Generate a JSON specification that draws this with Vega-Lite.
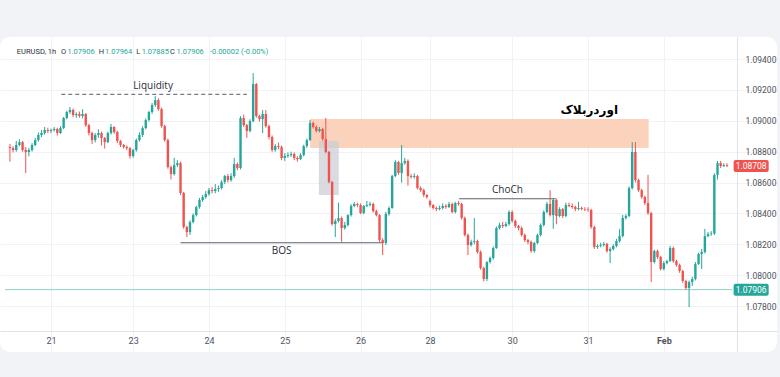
{
"$schema": "https://vega.github.io/schema/vega-lite/v6.json",
"autosize": "none",
"width": 777,
"height": 315,
"padding": {"left": 0, "top": 37, "right": 3, "bottom": 25},
"background": "#f1f3f6",
"config": {
 "view": {"fill": "#ffffff", "stroke": null, "cornerRadius": 10},
 "font": "Roboto",
 "axisX": {"grid": true, "gridColor": "#f0f2f6", "ticks": false, "domainColor": "#dfe2e8", "labelColor": "#50535e", "labelFontSize": 9, "labelPadding": 5},
 "axisY": {"grid": true, "gridColor": "#f0f2f6", "ticks": false, "domainColor": "#dfe2e8", "labelColor": "#50535e", "labelFontSize": 8.5, "labelPadding": 8, "labelOverlap": false}
},
"datasets": {
"candles": [
{"i":0,"o":1.0883,"h":1.0885,"l":1.08735,"c":1.08823},
{"i":1,"o":1.08823,"h":1.08835,"l":1.08795,"c":1.08811},
{"i":2,"o":1.08811,"h":1.0887,"l":1.088,"c":1.08843},
{"i":3,"o":1.08843,"h":1.0888,"l":1.08835,"c":1.08862},
{"i":4,"o":1.08862,"h":1.0887,"l":1.088,"c":1.08811},
{"i":5,"o":1.08811,"h":1.0883,"l":1.08662,"c":1.08798},
{"i":6,"o":1.08798,"h":1.08825,"l":1.0877,"c":1.08811},
{"i":7,"o":1.08811,"h":1.08855,"l":1.088,"c":1.08843},
{"i":8,"o":1.08843,"h":1.0889,"l":1.08835,"c":1.08875},
{"i":9,"o":1.08875,"h":1.08925,"l":1.08865,"c":1.08908},
{"i":10,"o":1.08908,"h":1.0894,"l":1.08895,"c":1.08921},
{"i":11,"o":1.08921,"h":1.0896,"l":1.0891,"c":1.0894},
{"i":12,"o":1.0894,"h":1.08955,"l":1.0892,"c":1.08934},
{"i":13,"o":1.08934,"h":1.0895,"l":1.0892,"c":1.0894},
{"i":14,"o":1.0894,"h":1.0896,"l":1.0893,"c":1.08947},
{"i":15,"o":1.08947,"h":1.08955,"l":1.08905,"c":1.08921},
{"i":16,"o":1.08921,"h":1.08965,"l":1.08915,"c":1.08953},
{"i":17,"o":1.08953,"h":1.09025,"l":1.08945,"c":1.09018},
{"i":18,"o":1.09018,"h":1.09065,"l":1.0901,"c":1.09057},
{"i":19,"o":1.09057,"h":1.0909,"l":1.09045,"c":1.0907},
{"i":20,"o":1.0907,"h":1.0908,"l":1.09025,"c":1.09037},
{"i":21,"o":1.09037,"h":1.09055,"l":1.0902,"c":1.09044},
{"i":22,"o":1.09044,"h":1.0906,"l":1.0902,"c":1.09031},
{"i":23,"o":1.09031,"h":1.09075,"l":1.09015,"c":1.09044},
{"i":24,"o":1.09044,"h":1.0905,"l":1.0896,"c":1.08972},
{"i":25,"o":1.08972,"h":1.0898,"l":1.08905,"c":1.08921},
{"i":26,"o":1.08921,"h":1.0893,"l":1.0885,"c":1.08875},
{"i":27,"o":1.08875,"h":1.0892,"l":1.0886,"c":1.08908},
{"i":28,"o":1.08908,"h":1.08945,"l":1.0889,"c":1.08921},
{"i":29,"o":1.08921,"h":1.0893,"l":1.0884,"c":1.08888},
{"i":30,"o":1.08888,"h":1.08895,"l":1.0882,"c":1.08862},
{"i":31,"o":1.08862,"h":1.0893,"l":1.08855,"c":1.08921},
{"i":32,"o":1.08921,"h":1.0898,"l":1.0891,"c":1.0896},
{"i":33,"o":1.0896,"h":1.08965,"l":1.08915,"c":1.08927},
{"i":34,"o":1.08927,"h":1.08935,"l":1.08855,"c":1.08869},
{"i":35,"o":1.08869,"h":1.08875,"l":1.0883,"c":1.08843},
{"i":36,"o":1.08843,"h":1.0885,"l":1.0882,"c":1.0883},
{"i":37,"o":1.0883,"h":1.0884,"l":1.0881,"c":1.08823},
{"i":38,"o":1.08823,"h":1.0883,"l":1.08755,"c":1.08772},
{"i":39,"o":1.08772,"h":1.0882,"l":1.0876,"c":1.08811},
{"i":40,"o":1.08811,"h":1.08885,"l":1.088,"c":1.08875},
{"i":41,"o":1.08875,"h":1.08925,"l":1.08865,"c":1.08908},
{"i":42,"o":1.08908,"h":1.08965,"l":1.08895,"c":1.08953},
{"i":43,"o":1.08953,"h":1.09015,"l":1.08945,"c":1.09005},
{"i":44,"o":1.09005,"h":1.09065,"l":1.08995,"c":1.09057},
{"i":45,"o":1.09057,"h":1.09115,"l":1.09045,"c":1.09102},
{"i":46,"o":1.09102,"h":1.0916,"l":1.0909,"c":1.09134},
{"i":47,"o":1.09134,"h":1.09145,"l":1.09065,"c":1.09076},
{"i":48,"o":1.09076,"h":1.09085,"l":1.08955,"c":1.08966},
{"i":49,"o":1.08966,"h":1.08975,"l":1.08865,"c":1.08875},
{"i":50,"o":1.08875,"h":1.08885,"l":1.0869,"c":1.087},
{"i":51,"o":1.087,"h":1.0871,"l":1.0862,"c":1.08655},
{"i":52,"o":1.08655,"h":1.0876,"l":1.08645,"c":1.08713},
{"i":53,"o":1.08713,"h":1.08745,"l":1.087,"c":1.08726},
{"i":54,"o":1.08726,"h":1.08735,"l":1.0852,"c":1.08532},
{"i":55,"o":1.08532,"h":1.0854,"l":1.083,"c":1.08312},
{"i":56,"o":1.08312,"h":1.0832,"l":1.08247,"c":1.08279},
{"i":57,"o":1.08279,"h":1.08355,"l":1.0826,"c":1.08344},
{"i":58,"o":1.08344,"h":1.084,"l":1.08335,"c":1.08389},
{"i":59,"o":1.08389,"h":1.0845,"l":1.0838,"c":1.08441},
{"i":60,"o":1.08441,"h":1.085,"l":1.0843,"c":1.08487},
{"i":61,"o":1.08487,"h":1.0852,"l":1.08475,"c":1.08506},
{"i":62,"o":1.08506,"h":1.08545,"l":1.08495,"c":1.08525},
{"i":63,"o":1.08525,"h":1.08565,"l":1.08515,"c":1.08551},
{"i":64,"o":1.08551,"h":1.0857,"l":1.0853,"c":1.08545},
{"i":65,"o":1.08545,"h":1.0859,"l":1.0853,"c":1.08558},
{"i":66,"o":1.08558,"h":1.0858,"l":1.0854,"c":1.08564},
{"i":67,"o":1.08564,"h":1.08615,"l":1.08555,"c":1.08603},
{"i":68,"o":1.08603,"h":1.0865,"l":1.0859,"c":1.08642},
{"i":69,"o":1.08642,"h":1.08655,"l":1.086,"c":1.08616},
{"i":70,"o":1.08616,"h":1.0866,"l":1.08605,"c":1.08642},
{"i":71,"o":1.08642,"h":1.0876,"l":1.0863,"c":1.0872},
{"i":72,"o":1.0872,"h":1.0873,"l":1.0868,"c":1.08694},
{"i":73,"o":1.08694,"h":1.0903,"l":1.08685,"c":1.09018},
{"i":74,"o":1.09018,"h":1.0904,"l":1.0896,"c":1.08972},
{"i":75,"o":1.08972,"h":1.0898,"l":1.0889,"c":1.08934},
{"i":76,"o":1.08934,"h":1.0901,"l":1.08925,"c":1.08998},
{"i":77,"o":1.08998,"h":1.09309,"l":1.0899,"c":1.09238},
{"i":78,"o":1.09238,"h":1.09245,"l":1.0902,"c":1.09031},
{"i":79,"o":1.09031,"h":1.0904,"l":1.08995,"c":1.09011},
{"i":80,"o":1.09011,"h":1.0907,"l":1.0892,"c":1.09044},
{"i":81,"o":1.09044,"h":1.0907,"l":1.08955,"c":1.08966},
{"i":82,"o":1.08966,"h":1.08975,"l":1.0888,"c":1.08895},
{"i":83,"o":1.08895,"h":1.08905,"l":1.088,"c":1.08811},
{"i":84,"o":1.08811,"h":1.0885,"l":1.088,"c":1.08836},
{"i":85,"o":1.08836,"h":1.0886,"l":1.08815,"c":1.0883},
{"i":86,"o":1.0883,"h":1.0884,"l":1.08745,"c":1.08759},
{"i":87,"o":1.08759,"h":1.0879,"l":1.0874,"c":1.08772},
{"i":88,"o":1.08772,"h":1.08795,"l":1.0876,"c":1.08778},
{"i":89,"o":1.08778,"h":1.088,"l":1.08765,"c":1.08785},
{"i":90,"o":1.08785,"h":1.08795,"l":1.08745,"c":1.08759},
{"i":91,"o":1.08759,"h":1.0877,"l":1.08735,"c":1.08752},
{"i":92,"o":1.08752,"h":1.0879,"l":1.08745,"c":1.08778},
{"i":93,"o":1.08778,"h":1.08845,"l":1.0877,"c":1.08836},
{"i":94,"o":1.08836,"h":1.08885,"l":1.08825,"c":1.08875},
{"i":95,"o":1.08875,"h":1.09005,"l":1.0887,"c":1.08985},
{"i":96,"o":1.08985,"h":1.08995,"l":1.0895,"c":1.0896},
{"i":97,"o":1.0896,"h":1.0897,"l":1.08925,"c":1.08934},
{"i":98,"o":1.08934,"h":1.0896,"l":1.08925,"c":1.08947},
{"i":99,"o":1.08947,"h":1.08955,"l":1.0887,"c":1.08882},
{"i":100,"o":1.08882,"h":1.09018,"l":1.0879,"c":1.08798},
{"i":101,"o":1.08798,"h":1.08805,"l":1.08595,"c":1.08603},
{"i":102,"o":1.08603,"h":1.0861,"l":1.0832,"c":1.08331},
{"i":103,"o":1.08331,"h":1.08365,"l":1.08247,"c":1.08351},
{"i":104,"o":1.08351,"h":1.0847,"l":1.0834,"c":1.0837},
{"i":105,"o":1.0837,"h":1.0838,"l":1.08215,"c":1.08305},
{"i":106,"o":1.08305,"h":1.08345,"l":1.08295,"c":1.08325},
{"i":107,"o":1.08325,"h":1.08395,"l":1.08315,"c":1.08389},
{"i":108,"o":1.08389,"h":1.0846,"l":1.0838,"c":1.08448},
{"i":109,"o":1.08448,"h":1.08475,"l":1.0844,"c":1.08461},
{"i":110,"o":1.08461,"h":1.0847,"l":1.0844,"c":1.08454},
{"i":111,"o":1.08454,"h":1.08465,"l":1.08395,"c":1.08402},
{"i":112,"o":1.08402,"h":1.08455,"l":1.08395,"c":1.08448},
{"i":113,"o":1.08448,"h":1.0848,"l":1.0844,"c":1.08454},
{"i":114,"o":1.08454,"h":1.08475,"l":1.08445,"c":1.08461},
{"i":115,"o":1.08461,"h":1.0847,"l":1.08405,"c":1.08415},
{"i":116,"o":1.08415,"h":1.08425,"l":1.0838,"c":1.08389},
{"i":117,"o":1.08389,"h":1.08395,"l":1.08215,"c":1.08227},
{"i":118,"o":1.08227,"h":1.0824,"l":1.0813,"c":1.08208},
{"i":119,"o":1.08208,"h":1.0841,"l":1.08195,"c":1.08396},
{"i":120,"o":1.08396,"h":1.08445,"l":1.08385,"c":1.08435},
{"i":121,"o":1.08435,"h":1.0865,"l":1.0843,"c":1.08642},
{"i":122,"o":1.08642,"h":1.08745,"l":1.08635,"c":1.08733},
{"i":123,"o":1.08733,"h":1.0874,"l":1.0865,"c":1.08662},
{"i":124,"o":1.08662,"h":1.08843,"l":1.086,"c":1.08726},
{"i":125,"o":1.08726,"h":1.0876,"l":1.08715,"c":1.08739},
{"i":126,"o":1.08739,"h":1.0875,"l":1.0858,"c":1.08642},
{"i":127,"o":1.08642,"h":1.08655,"l":1.08625,"c":1.08636},
{"i":128,"o":1.08636,"h":1.0866,"l":1.08625,"c":1.08642},
{"i":129,"o":1.08642,"h":1.0865,"l":1.08555,"c":1.08564},
{"i":130,"o":1.08564,"h":1.08575,"l":1.0854,"c":1.08551},
{"i":131,"o":1.08551,"h":1.0856,"l":1.08505,"c":1.08519},
{"i":132,"o":1.08519,"h":1.08525,"l":1.08495,"c":1.08506},
{"i":133,"o":1.0848,"h":1.0849,"l":1.0844,"c":1.08454},
{"i":134,"o":1.08454,"h":1.0846,"l":1.08425,"c":1.08435},
{"i":135,"o":1.08435,"h":1.08445,"l":1.08415,"c":1.08428},
{"i":136,"o":1.08428,"h":1.0845,"l":1.0842,"c":1.08435},
{"i":137,"o":1.08435,"h":1.08465,"l":1.08425,"c":1.08448},
{"i":138,"o":1.08448,"h":1.0846,"l":1.0843,"c":1.08441},
{"i":139,"o":1.08441,"h":1.08475,"l":1.08435,"c":1.08461},
{"i":140,"o":1.08461,"h":1.0847,"l":1.084,"c":1.08409},
{"i":141,"o":1.08409,"h":1.08475,"l":1.084,"c":1.08467},
{"i":142,"o":1.08467,"h":1.0848,"l":1.0845,"c":1.08461},
{"i":143,"o":1.08461,"h":1.0847,"l":1.0836,"c":1.0837},
{"i":144,"o":1.0837,"h":1.0838,"l":1.0825,"c":1.0826},
{"i":145,"o":1.0826,"h":1.0827,"l":1.0813,"c":1.08195},
{"i":146,"o":1.08195,"h":1.0823,"l":1.08185,"c":1.08215},
{"i":147,"o":1.08215,"h":1.0837,"l":1.082,"c":1.08221},
{"i":148,"o":1.08221,"h":1.0823,"l":1.0814,"c":1.0815},
{"i":149,"o":1.0815,"h":1.0816,"l":1.08035,"c":1.08046},
{"i":150,"o":1.08046,"h":1.08055,"l":1.0796,"c":1.07975},
{"i":151,"o":1.07975,"h":1.0809,"l":1.07962,"c":1.08085},
{"i":152,"o":1.08085,"h":1.0812,"l":1.08075,"c":1.08111},
{"i":153,"o":1.08111,"h":1.08185,"l":1.081,"c":1.08176},
{"i":154,"o":1.08176,"h":1.08315,"l":1.0817,"c":1.08305},
{"i":155,"o":1.08305,"h":1.0834,"l":1.08295,"c":1.08325},
{"i":156,"o":1.08325,"h":1.08345,"l":1.08305,"c":1.08318},
{"i":157,"o":1.08318,"h":1.08345,"l":1.0831,"c":1.08331},
{"i":158,"o":1.08331,"h":1.0842,"l":1.0832,"c":1.08409},
{"i":159,"o":1.08409,"h":1.0842,"l":1.0834,"c":1.08351},
{"i":160,"o":1.08351,"h":1.0836,"l":1.08305,"c":1.08318},
{"i":161,"o":1.08318,"h":1.08325,"l":1.0829,"c":1.08305},
{"i":162,"o":1.08305,"h":1.08315,"l":1.0825,"c":1.0826},
{"i":163,"o":1.0826,"h":1.0827,"l":1.08215,"c":1.08227},
{"i":164,"o":1.08227,"h":1.08235,"l":1.082,"c":1.08215},
{"i":165,"o":1.08215,"h":1.08225,"l":1.08145,"c":1.08156},
{"i":166,"o":1.08156,"h":1.08215,"l":1.08145,"c":1.08208},
{"i":167,"o":1.08208,"h":1.0827,"l":1.082,"c":1.0826},
{"i":168,"o":1.0826,"h":1.08335,"l":1.0825,"c":1.08325},
{"i":169,"o":1.08325,"h":1.0842,"l":1.08315,"c":1.08409},
{"i":170,"o":1.08409,"h":1.08475,"l":1.084,"c":1.08461},
{"i":171,"o":1.08461,"h":1.08551,"l":1.0838,"c":1.08389},
{"i":172,"o":1.08389,"h":1.085,"l":1.083,"c":1.08487},
{"i":173,"o":1.08487,"h":1.08495,"l":1.0833,"c":1.08383},
{"i":174,"o":1.08383,"h":1.0844,"l":1.08375,"c":1.08428},
{"i":175,"o":1.08428,"h":1.08435,"l":1.0837,"c":1.08383},
{"i":176,"o":1.08383,"h":1.0847,"l":1.08375,"c":1.08454},
{"i":177,"o":1.08454,"h":1.0847,"l":1.0844,"c":1.08448},
{"i":178,"o":1.08448,"h":1.08465,"l":1.0843,"c":1.08441},
{"i":179,"o":1.08441,"h":1.0845,"l":1.08415,"c":1.08428},
{"i":180,"o":1.08428,"h":1.08475,"l":1.0842,"c":1.08435},
{"i":181,"o":1.08435,"h":1.08445,"l":1.0842,"c":1.08428},
{"i":182,"o":1.08428,"h":1.0844,"l":1.08415,"c":1.08425},
{"i":183,"o":1.08425,"h":1.0844,"l":1.0841,"c":1.08422},
{"i":184,"o":1.08422,"h":1.0843,"l":1.083,"c":1.08312},
{"i":185,"o":1.08312,"h":1.0832,"l":1.0817,"c":1.08182},
{"i":186,"o":1.08182,"h":1.082,"l":1.0817,"c":1.08189},
{"i":187,"o":1.08189,"h":1.0821,"l":1.0818,"c":1.08195},
{"i":188,"o":1.08195,"h":1.08215,"l":1.08185,"c":1.08202},
{"i":189,"o":1.08202,"h":1.0821,"l":1.08145,"c":1.08156},
{"i":190,"o":1.08156,"h":1.0818,"l":1.08078,"c":1.08169},
{"i":191,"o":1.08169,"h":1.082,"l":1.0816,"c":1.08189},
{"i":192,"o":1.08189,"h":1.08235,"l":1.0818,"c":1.08221},
{"i":193,"o":1.08221,"h":1.083,"l":1.0821,"c":1.08253},
{"i":194,"o":1.08253,"h":1.0839,"l":1.08245,"c":1.0837},
{"i":195,"o":1.0837,"h":1.08395,"l":1.0836,"c":1.08383},
{"i":196,"o":1.08383,"h":1.08575,"l":1.08375,"c":1.08564},
{"i":197,"o":1.08564,"h":1.08862,"l":1.08555,"c":1.08798},
{"i":198,"o":1.08798,"h":1.08862,"l":1.086,"c":1.08616},
{"i":199,"o":1.08616,"h":1.08625,"l":1.0854,"c":1.08551},
{"i":200,"o":1.08551,"h":1.0856,"l":1.08495,"c":1.08506},
{"i":201,"o":1.08506,"h":1.08515,"l":1.08455,"c":1.08467},
{"i":202,"o":1.08467,"h":1.0865,"l":1.0839,"c":1.08402},
{"i":203,"o":1.08402,"h":1.0841,"l":1.07955,"c":1.08085},
{"i":204,"o":1.08085,"h":1.08165,"l":1.08075,"c":1.08156},
{"i":205,"o":1.08156,"h":1.08165,"l":1.08105,"c":1.08117},
{"i":206,"o":1.08117,"h":1.08125,"l":1.0803,"c":1.0804},
{"i":207,"o":1.0804,"h":1.0809,"l":1.0803,"c":1.08078},
{"i":208,"o":1.08078,"h":1.081,"l":1.0807,"c":1.08091},
{"i":209,"o":1.08091,"h":1.0819,"l":1.08085,"c":1.08176},
{"i":210,"o":1.08176,"h":1.08185,"l":1.0808,"c":1.08091},
{"i":211,"o":1.08091,"h":1.081,"l":1.08055,"c":1.08066},
{"i":212,"o":1.08066,"h":1.08075,"l":1.08015,"c":1.08027},
{"i":213,"o":1.08027,"h":1.08035,"l":1.0795,"c":1.07962},
{"i":214,"o":1.07962,"h":1.0797,"l":1.07905,"c":1.07917},
{"i":215,"o":1.07917,"h":1.07965,"l":1.07793,"c":1.07955},
{"i":216,"o":1.07955,"h":1.0799,"l":1.0793,"c":1.07975},
{"i":217,"o":1.07975,"h":1.08085,"l":1.07965,"c":1.08072},
{"i":218,"o":1.08072,"h":1.08145,"l":1.08065,"c":1.08137},
{"i":219,"o":1.08137,"h":1.0817,"l":1.0804,"c":1.0815},
{"i":220,"o":1.0815,"h":1.083,"l":1.0814,"c":1.08253},
{"i":221,"o":1.08253,"h":1.0828,"l":1.08245,"c":1.08266},
{"i":222,"o":1.08266,"h":1.08285,"l":1.08255,"c":1.0827},
{"i":223,"o":1.0827,"h":1.0866,"l":1.0826,"c":1.08649},
{"i":224,"o":1.08649,"h":1.0874,"l":1.0862,"c":1.08726},
{"i":225,"o":1.08726,"h":1.0874,"l":1.08695,"c":1.08707},
{"i":226,"o":1.08707,"h":1.08725,"l":1.087,"c":1.08713},
{"i":227,"o":1.08713,"h":1.08725,"l":1.087,"c":1.08708}
]
},
"layer": [
{
 "data": {"values": [{"i1": 95, "i2": 202.2, "p1": 1.08823, "p2": 1.09011}]},
 "mark": {"type": "rect", "fill": "#fbd3bd"},
 "encoding": {
  "x": {"field": "i1", "type": "quantitative", "scale": {"domain": [-1.5625, 241.25], "nice": false, "zero": false},
        "title": null,
        "axis": {"orient": "bottom", "offset": -21, "tickCount": 30, "values": [13, 39, 63, 87, 111, 133, 159, 183, 207], "labelOverlap": false,
                 "labelExpr": "datum.value==13?'21':datum.value==39?'23':datum.value==63?'24':datum.value==87?'25':datum.value==111?'26':datum.value==133?'28':datum.value==159?'30':datum.value==183?'31':'Feb'",
                 "labelFontWeight": {"condition": {"test": "datum.value == 207", "value": "bold"}, "value": "normal"}}},
  "x2": {"field": "i2"},
  "y": {"field": "p1", "type": "quantitative", "scale": {"domain": [1.07502, 1.09543], "nice": false, "zero": false},
        "title": null,
        "axis": {"orient": "right", "offset": -40, "tickCount": 30, "labelOverlap": false, "labelBound": false, "values": [1.078, 1.08, 1.082, 1.084, 1.086, 1.088, 1.09, 1.092, 1.094], "format": ".5f"}},
  "y2": {"field": "p2"}
 }
},
{
 "data": {"values": [{"i1": 97.8, "i2": 104.1, "p1": 1.08519, "p2": 1.08869}]},
 "mark": {"type": "rect", "fill": "#c9ccd3", "opacity": 0.7},
 "encoding": {
  "x": {"field": "i1", "type": "quantitative", "title": null},
  "x2": {"field": "i2"},
  "y": {"field": "p1", "type": "quantitative", "title": null},
  "y2": {"field": "p2"}
 }
},
{
 "data": {"values": [{"p": 1.07906}]},
 "mark": {"type": "rule", "color": "#8fd1ca", "strokeWidth": 1},
 "encoding": {
  "y": {"field": "p", "type": "quantitative", "title": null},
  "x": {"datum": -1.5625, "type": "quantitative"},
  "x2": {"datum": 228.7}
 }
},
{
 "data": {"values": [{"i1": 16.25, "i2": 75, "p": 1.09171}]},
 "mark": {"type": "rule", "color": "#787b86", "strokeWidth": 1.2, "strokeDash": [4, 3]},
 "encoding": {
  "x": {"field": "i1", "type": "quantitative", "title": null},
  "x2": {"field": "i2"},
  "y": {"field": "p", "type": "quantitative", "title": null}
 }
},
{
 "data": {"values": [{"i1": 54, "i2": 118.1, "p": 1.0821}, {"i1": 142.2, "i2": 172.8, "p": 1.08495}]},
 "mark": {"type": "rule", "color": "#5d606b", "strokeWidth": 1.2},
 "encoding": {
  "x": {"field": "i1", "type": "quantitative", "title": null},
  "x2": {"field": "i2"},
  "y": {"field": "p", "type": "quantitative", "title": null}
 }
},
{
 "data": {"name": "candles"},
 "mark": {"type": "rule", "strokeWidth": 1},
 "encoding": {
  "x": {"field": "i", "type": "quantitative", "title": null},
  "y": {"field": "l", "type": "quantitative", "title": null},
  "y2": {"field": "h"},
  "color": {"condition": {"test": "datum.c >= datum.o", "value": "#26a69a"}, "value": "#ef5350"}
 }
},
{
 "data": {"name": "candles"},
 "mark": {"type": "bar", "size": 2.4},
 "encoding": {
  "x": {"field": "i", "type": "quantitative", "title": null},
  "y": {"field": "o", "type": "quantitative", "title": null},
  "y2": {"field": "c"},
  "color": {"condition": {"test": "datum.c >= datum.o", "value": "#26a69a"}, "value": "#ef5350"}
 }
},
{
 "data": {"values": [{"t": "Liquidity", "i": 45.3, "p": 1.09225}, {"t": "BOS", "i": 86, "p": 1.08156}, {"t": "ChoCh", "i": 157.5, "p": 1.08551}]},
 "mark": {"type": "text", "fontSize": 10, "color": "#2a2e39", "font": "Open Sans"},
 "encoding": {
  "x": {"field": "i", "type": "quantitative", "title": null},
  "y": {"field": "p", "type": "quantitative", "title": null},
  "text": {"field": "t"}
 }
},
{
 "data": {"values": [{"t": "اوردربلاک", "i": 183.4, "p": 1.0907}]},
 "mark": {"type": "text", "fontSize": 12, "fontWeight": "bold", "color": "#000000", "font": "DejaVu Sans"},
 "encoding": {
  "x": {"field": "i", "type": "quantitative", "title": null},
  "y": {"field": "p", "type": "quantitative", "title": null},
  "text": {"field": "t"}
 }
},
{
 "data": {"values": [
   {"t": "EURUSD, 1h", "i": 2.19, "k": "a"},
   {"t": "O", "i": 16.2, "k": "a"}, {"t": "1.07906", "i": 18.2, "k": "b"},
   {"t": "H", "i": 28.1, "k": "a"}, {"t": "1.07964", "i": 30.1, "k": "b"},
   {"t": "L", "i": 40.0, "k": "a"}, {"t": "1.07885", "i": 41.7, "k": "b"},
   {"t": "C", "i": 50.7, "k": "a"}, {"t": "1.07906", "i": 52.75, "k": "b"},
   {"t": "-0.00002 (-0.00%)", "i": 63.3, "k": "b"}
 ]},
 "mark": {"type": "text", "fontSize": 7.5, "align": "left", "baseline": "middle"},
 "encoding": {
  "x": {"field": "i", "type": "quantitative", "title": null},
  "y": {"datum": 1.09445, "type": "quantitative"},
  "text": {"field": "t"},
  "color": {"field": "k", "type": "nominal", "scale": {"domain": ["a", "b"], "range": ["#2a2e39", "#26a69a"]}, "legend": null}
 }
},
{
 "data": {"values": [{"p1": 1.08668, "p2": 1.08746, "k": "r"}, {"p1": 1.07867, "p2": 1.07945, "k": "g"}]},
 "mark": {"type": "rect", "cornerRadius": 2},
 "encoding": {
  "x": {"datum": 229.1, "type": "quantitative"},
  "x2": {"datum": 240.2},
  "y": {"field": "p1", "type": "quantitative", "title": null},
  "y2": {"field": "p2"},
  "fill": {"field": "k", "type": "nominal", "scale": {"domain": ["r", "g"], "range": ["#ef5350", "#26a69a"]}, "legend": null}
 }
},
{
 "data": {"values": [{"t": "1.08708", "p": 1.08708}, {"t": "1.07906", "p": 1.07906}]},
 "mark": {"type": "text", "fontSize": 8.5, "color": "#ffffff", "align": "center", "baseline": "middle"},
 "encoding": {
  "x": {"datum": 234.65, "type": "quantitative"},
  "y": {"field": "p", "type": "quantitative", "title": null},
  "text": {"field": "t"}
 }
}
]
}
